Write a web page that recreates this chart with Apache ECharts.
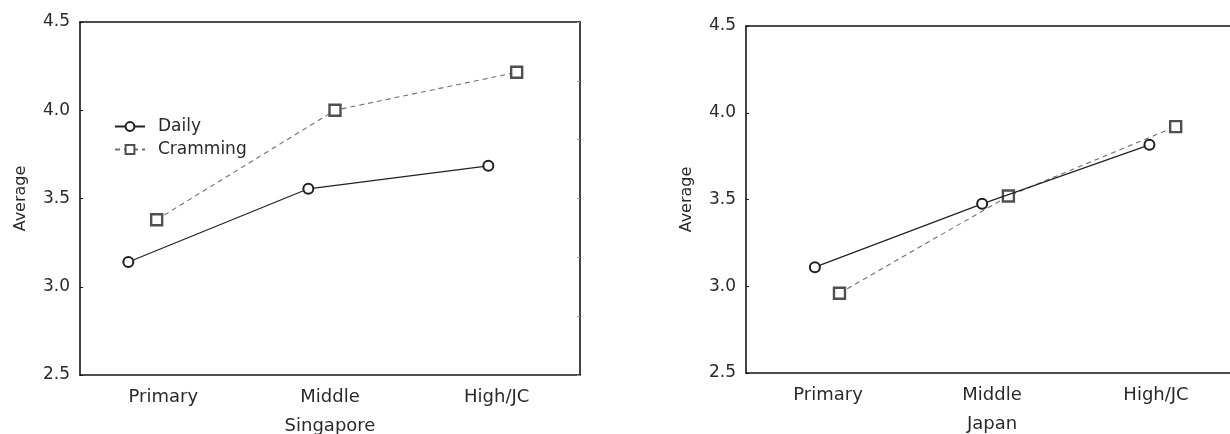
<!DOCTYPE html>
<html>
<head>
<meta charset="utf-8">
<script src="https://cdn.jsdelivr.net/npm/echarts@6/dist/echarts.min.js"></script>
<style>
html,body{margin:0;padding:0;background:#fff;}
#chart{width:1230px;height:434px;}
</style>
</head>
<body>
<div id="chart"></div>
<script>
// ---- data ----
const categories = ['Primary', 'Middle', 'High/JC'];
const seriesNames = ['Daily', 'Cramming'];
const panelNames = ['Singapore', 'Japan'];

// averages
const sgDaily = [3.14, 3.555, 3.685];
const sgCramming = [3.38, 4.00, 4.215];
const jpDaily = [3.11, 3.475, 3.815];
const jpCramming = [2.96, 3.52, 3.92];

// horizontal (jittered) positions of the points, in category units (0..3)
const sgDailyX = [0.29, 1.37, 2.45];
const sgCrammingX = [0.46, 1.53, 2.62];
const jpDailyX = [0.42, 1.44, 2.46];
const jpCrammingX = [0.57, 1.60, 2.62];

const yMin = 2.5, yMax = 4.5, yStep = 0.5;

// ---- chart ----
const FONT = 'DejaVu Sans';
const TXT = '#2a2a2a';
const AX = '#151515';

function pairs(xs, ys) { return xs.map((x, i) => [x, ys[i]]); }

const grids = [
  { left: 80, top: 22, width: 500, height: 353, outerBoundsMode: 'none', containLabel: false },
  { left: 746, top: 26, width: 492, height: 347, outerBoundsMode: 'none', containLabel: false }
];

const xAxes = [], yAxes = [], series = [];
const panelData = [
  [pairs(sgDailyX, sgDaily), pairs(sgCrammingX, sgCramming)],
  [pairs(jpDailyX, jpDaily), pairs(jpCrammingX, jpCramming)]
];

grids.forEach((g, gi) => {
  const base = xAxes.length;
  xAxes.push({
    type: 'category', gridIndex: gi, position: 'bottom', data: categories,
    boundaryGap: true,
    axisLine: { lineStyle: { color: AX, width: 1.6 } },
    axisTick: { alignWithLabel: true, inside: true, length: 4, lineStyle: { color: AX } },
    axisLabel: { color: TXT, fontFamily: FONT, fontSize: 18, margin: 13 },
    name: panelNames[gi], nameLocation: 'middle', nameGap: 42,
    nameTextStyle: { color: TXT, fontFamily: FONT, fontSize: 18 },
    splitLine: { show: false }
  });
  xAxes.push({
    type: 'category', gridIndex: gi, position: 'top', data: categories,
    boundaryGap: true,
    axisLine: { lineStyle: { color: AX, width: 1.6 } },
    axisTick: { alignWithLabel: true, inside: true, length: 4, lineStyle: { color: AX } },
    axisLabel: { show: false },
    splitLine: { show: false }
  });
  xAxes.push({
    type: 'value', gridIndex: gi, min: 0, max: categories.length, show: false
  });
  const ybase = yAxes.length;
  yAxes.push({
    type: 'value', gridIndex: gi, position: 'left', min: yMin, max: yMax, interval: yStep,
    axisLine: { show: true, lineStyle: { color: AX, width: 1.6 } },
    axisTick: { show: true, inside: true, length: 3, lineStyle: { color: AX } },
    axisLabel: { color: TXT, fontFamily: FONT, fontSize: 17, margin: 10,
      formatter: v => v.toFixed(1) },
    splitLine: { show: false },
    name: 'Average', nameLocation: 'middle', nameGap: 51, nameRotate: 90,
    nameTextStyle: { color: TXT, fontFamily: FONT, fontSize: 16 }
  });
  yAxes.push({
    type: 'value', gridIndex: gi, position: 'right', min: 0, max: 6, interval: 1,
    axisLine: { show: true, lineStyle: { color: AX, width: 1.6 } },
    axisTick: { show: true, inside: true, length: 3, lineStyle: { color: '#999' } },
    axisLabel: { show: false },
    splitLine: { show: false }
  });

  series.push({
    name: seriesNames[0], type: 'line', xAxisIndex: base + 2, yAxisIndex: ybase,
    data: panelData[gi][0],
    symbol: 'circle', symbolSize: 10,
    itemStyle: { color: '#fff', borderColor: '#1e1e1e', borderWidth: 2 },
    lineStyle: { color: '#222', width: 1.2 },
    z: 3
  });
  series.push({
    name: seriesNames[1], type: 'line', xAxisIndex: base + 2, yAxisIndex: ybase,
    data: panelData[gi][1],
    symbol: 'rect', symbolSize: 11,
    itemStyle: { color: '#fff', borderColor: '#505050', borderWidth: 2.4 },
    lineStyle: { color: '#707070', width: 1.1, type: [5, 4] },
    z: 2
  });
});

const chart = echarts.init(document.getElementById('chart'), null, { renderer: 'canvas' });
chart.setOption({
  animation: false,
  backgroundColor: '#fff',
  grid: grids,
  xAxis: xAxes,
  yAxis: yAxes,
  legend: {
    data: seriesNames,
    orient: 'vertical',
    left: 114, top: 118, padding: 0,
    itemWidth: 30, itemHeight: 11, itemGap: 6,
    textStyle: { color: TXT, fontFamily: FONT, fontSize: 17, padding: [0, 0, 0, 8] },
    selectedMode: false
  },
  series: series
});
</script>
</body>
</html>
